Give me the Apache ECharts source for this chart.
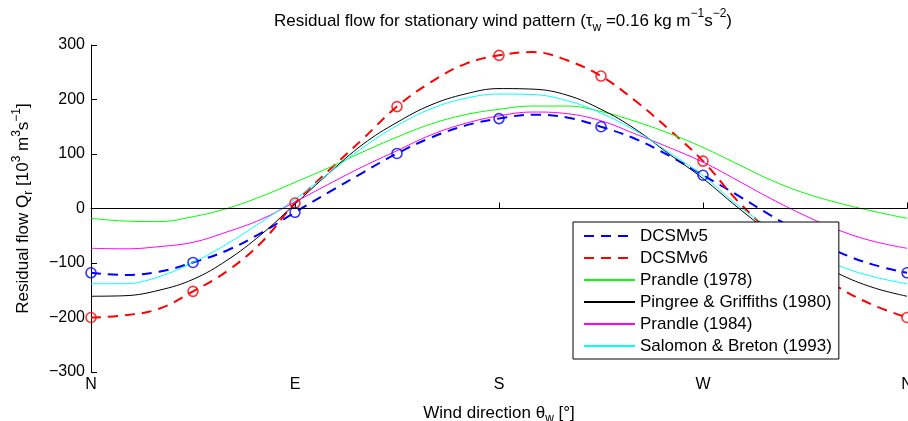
<!DOCTYPE html>
<html>
<head>
<meta charset="utf-8">
<script src="https://cdn.jsdelivr.net/npm/echarts@6/dist/echarts.min.js"></script>
<style>
html,body{margin:0;padding:0;background:#fff;}
#chart{width:908px;height:421px;}
</style>
</head>
<body>
<div id="chart"></div>
<script>
// wind direction in degrees (N = 0, E = 90, S = 180, W = 270)
var windDir = [0,15,30,45,60,75,90,105,120,135,150,165,180,195,210,225,240,255,270,285,300,315,330,345,360];
var dirTicks = [0,90,180,270,360];
var dirLabels = ['N','E','S','W','N'];

// residual flow [10^3 m^3/s]
var dcsmV5      = [-118,-122,-116,-99,-77,-45,-7,30,66,101,130,152,165,172,167,150,128,97,61,25,-13,-48,-80,-103,-118];
var dcsmV6      = [-200,-196,-184,-152,-115,-63,10,70,128,187,232,265,281,287,272,243,198,145,87,15,-45,-100,-145,-177,-200];
var prandle1978 = [-18,-23,-24,-15,0,22,48,75,104,131,155,172,182,188,188,178,160,138,112,82,52,28,10,-5,-18];
var pingree1980 = [-161,-160,-150,-130,-95,-48,8,65,118,158,190,210,220,219,208,182,146,100,55,3,-45,-85,-120,-145,-161];
var prandle1984 = [-73,-74,-70,-62,-43,-20,12,45,77,106,135,156,170,177,174,161,137,112,85,52,18,-13,-40,-60,-73];
var salomon1993 = [-138,-138,-125,-99,-65,-25,17,65,112,152,183,202,210,209,198,175,143,103,60,7,-37,-75,-105,-125,-138];

var FONT = 'Liberation Sans';

function pairs(arr){
	return windDir.map(function(d, i){ return [d, arr[i]]; });
}
// model output is only marked every 45 degrees
function marks(arr){
	return pairs(arr).filter(function(p){ return p[0] % 45 === 0; });
}

function solid(name, color, arr){
	return {
		name: name, type: 'line', data: pairs(arr), smooth: 0.4,
		symbol: 'none', lineStyle: {color: color, width: 1}, itemStyle: {color: color}
	};
}
function dashed(name, color, arr){
	return {
		name: name, type: 'line', data: pairs(arr), smooth: 0.4,
		symbol: 'none', lineStyle: {color: color, width: 2, type: [10, 7]}, itemStyle: {color: color}
	};
}
function circles(name, color, arr){
	return {
		name: name, type: 'scatter', data: marks(arr), symbol: 'circle', symbolSize: 10,
		clip: false, z: 3,
		itemStyle: {color: 'rgba(0,0,0,0)', borderColor: color, borderWidth: 1.6}
	};
}

function subSup(size){
	return {
		sub: {fontFamily: FONT, fontSize: size, lineHeight: size, verticalAlign: 'bottom', color: '#000'},
		sup: {fontFamily: FONT, fontSize: size, lineHeight: size, verticalAlign: 'top', color: '#000'}
	};
}

var chart = echarts.init(document.getElementById('chart'));
chart.setOption({
	animation: false,
	backgroundColor: '#fff',
	title: {
		text: 'Residual flow for stationary wind pattern (τ{sub|w} =0.16 kg m{sup|−1}s{sup|−2})',
		left: 269, top: 3,
		textStyle: {fontFamily: FONT, fontSize: 17, fontWeight: 'normal', color: '#000', lineHeight: 26, rich: subSup(12)}
	},
	grid: {left: 91, right: 1, top: 45, bottom: 49, outerBoundsMode: 'none', containLabel: false},
	legend: {
		data: ['DCSMv5','DCSMv6','Prandle (1978)','Pingree & Griffiths (1980)','Prandle (1984)','Salomon & Breton (1993)'],
		orient: 'vertical', left: 573, top: 222,
		itemWidth: 51, itemHeight: 14, itemGap: 4,
		padding: [5, 7, 4, 10],
		borderColor: '#000', borderWidth: 1, borderRadius: 0, backgroundColor: '#fff',
		itemStyle: {opacity: 0},
		textStyle: {fontFamily: FONT, fontSize: 17, lineHeight: 18, color: '#000'}
	},
	xAxis: {
		type: 'value', min: 0, max: 360, interval: 90,
		name: 'Wind direction θ{sub|w} [°]', nameLocation: 'middle', nameGap: 29,
		nameTextStyle: {fontFamily: FONT, fontSize: 17, color: '#000', lineHeight: 24, rich: subSup(12)},
		axisLine: {lineStyle: {color: '#000', width: 1}},
		axisTick: {inside: true, length: 6, lineStyle: {color: '#000'}},
		axisLabel: {
			fontFamily: FONT, fontSize: 16, color: '#000', margin: 5,
			formatter: function(v){ return dirLabels[dirTicks.indexOf(v)]; }
		},
		splitLine: {show: false}
	},
	yAxis: {
		type: 'value', min: -300, max: 300, interval: 100,
		name: 'Residual flow Q{sub|r} [10{sup|3} m{sup|3}s{sup|−1}]', nameLocation: 'middle', nameGap: 56,
		nameTextStyle: {fontFamily: FONT, fontSize: 17, color: '#000', lineHeight: 24, rich: subSup(12)},
		axisLine: {show: true, lineStyle: {color: '#000', width: 1}},
		axisTick: {show: true, inside: true, length: 6, lineStyle: {color: '#000'}},
		axisLabel: {
			fontFamily: FONT, fontSize: 16, color: '#000', margin: 6,
			formatter: function(v){ return String(v).replace('-', '−'); }
		},
		splitLine: {show: false}
	},
	series: [
		dashed('DCSMv5', '#0000ff', dcsmV5),
		dashed('DCSMv6', '#ff0000', dcsmV6),
		solid('Prandle (1978)', '#00ff00', prandle1978),
		solid('Pingree & Griffiths (1980)', '#000000', pingree1980),
		solid('Prandle (1984)', '#ff00ff', prandle1984),
		solid('Salomon & Breton (1993)', '#00ffff', salomon1993),
		circles('DCSMv5 marks', '#0000ff', dcsmV5),
		circles('DCSMv6 marks', '#ff0000', dcsmV6),
		{
			name: 'zero', type: 'line', data: [], silent: true,
			markLine: {
				silent: true, symbol: 'none', label: {show: false},
				lineStyle: {color: '#000', width: 1, type: 'solid'},
				data: [{yAxis: 0}]
			}
		}
	]
});
</script>
</body>
</html>
